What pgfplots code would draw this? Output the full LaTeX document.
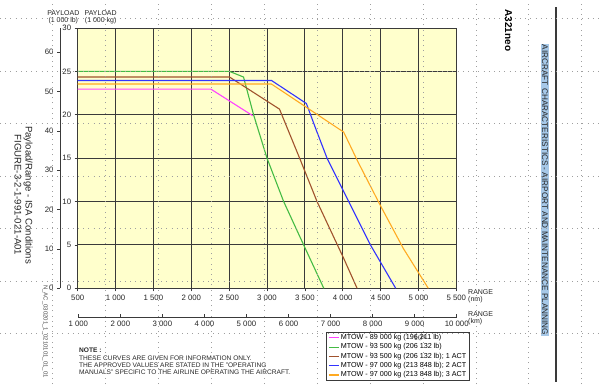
\documentclass[border=0pt]{standalone}
\usepackage{fontspec}
\setmainfont{Liberation Sans}
\usepackage{pgfplots}
\pgfplotsset{compat=1.18}
\definecolor{bgyellow}{HTML}{FFFFCC}
\definecolor{cmag}{HTML}{FF44FF}
\definecolor{cgreen}{HTML}{44BB44}
\definecolor{cbrown}{HTML}{A0522D}
\definecolor{cblue}{HTML}{3333FF}
\definecolor{corange}{HTML}{FFAA22}
\definecolor{hlblue}{HTML}{A6C8E8}
\definecolor{gridc}{HTML}{3A3A3A}
\begin{document}
\begin{tikzpicture}[x=1pt,y=1pt]
\useasboundingbox (0,0) rectangle (602,384);
\fill[white] (0,0) rectangle (602,384);

% ---------- main axis (nm / 1000 kg)
\begin{axis}[
  at={(77.7pt,95.7pt)}, anchor=south west,
  scale only axis, width=378.6pt, height=260.3pt,
  xmin=500, xmax=5500, ymin=0, ymax=30,
  xtick={500,1000,...,5500},
  xticklabels={500,1 000,1 500,2 000,2 500,3 000,3 500,4 000,4 500,5 000,5 500},
  ytick={0,5,...,30},
  grid=major,
  major grid style={draw=gridc, line width=1pt},
  axis line style={draw=gridc, line width=1pt},
  axis background/.style={fill=bgyellow},
  tick align=outside, xtick pos=bottom, ytick pos=left,
  major tick length=3pt,
  tick style={draw=gridc, line width=0.6pt},
  ticklabel style={font=\fontsize{7.8}{8}\selectfont, text=black!85},
  /pgf/number format/assume math mode=true,
  legend style={at={(0.6558,-0.1675)}, anchor=north west, draw=gridc, line width=0.8pt,
    font=\fontsize{7.2}{8}\selectfont, fill=white, inner xsep=2pt, inner ysep=0.8pt,
    nodes={inner sep=1.3pt}},
  legend cell align=left,
  legend image code/.code={\draw[#1, line width=1.1pt] (0pt,0pt) -- (10pt,0pt);},
]
\addplot[cmag, line width=1.1pt] coordinates {(500,22.95) (2260,22.95) (2810,19.9)};
\addlegendentry{MTOW - 89 000 kg (196 211 lb)}
\addplot[cgreen, line width=1.1pt] coordinates {(500,25.0) (2505,25.0) (2690,24.35) (2823,20) (3000,15) (3220,10) (3484,5) (3750,0)};
\addlegendentry{MTOW - 93 500 kg (206 132 lb)}
\addplot[cbrown, line width=1.1pt] coordinates {(500,24.35) (2505,24.35) (3165,20.65) (3440,14.8) (3661,10) (4013,3.45) (4190,0)};
\addlegendentry{MTOW - 93 500 kg (206 132 lb); 1 ACT}
\addplot[cblue, line width=1.1pt] coordinates {(500,23.95) (3060,23.95) (3520,21.3) (3652,18.2) (3793,15) (4079,10) (4366,5) (4700,0)};
\addlegendentry{MTOW - 97 000 kg (213 848 lb); 2 ACT}
\addplot[corange, line width=1.1pt] coordinates {(500,23.55) (3057,23.55) (4013,18.0) (4200,14.6) (4500,9.5) (4800,4.6) (5130,0)};
\addlegendentry{MTOW - 97 000 kg (213 848 lb); 3 ACT}
\end{axis}

% ---------- lb axis
\begin{axis}[
  at={(60pt,95.7pt)}, anchor=south west,
  scale only axis, width=5pt, height=260.3pt,
  xmin=0, xmax=1, ymin=0, ymax=66.139,
  axis x line=none, axis y line=left,
  axis line style={-, draw=gridc, line width=1pt},
  ytick={0,10,...,60},
  tick align=outside, major tick length=3pt,
  tick style={draw=gridc, line width=0.6pt},
  ticklabel style={font=\fontsize{7.8}{8}\selectfont, text=black!85},
  /pgf/number format/assume math mode=true,
]
\addplot[draw=none] coordinates {(0,0)};
\end{axis}

% ---------- km axis
\begin{axis}[
  at={(78.3pt,66.7pt)}, anchor=south west,
  scale only axis, width=378.4pt, height=5pt,
  xmin=1000, xmax=10000, ymin=0, ymax=1,
  axis y line=none, axis x line=bottom,
  axis line style={-, draw=gridc, line width=1pt},
  xtick={1000,2000,...,10000},
  xticklabels={1 000,2 000,3 000,4 000,5 000,6 000,7 000,8 000,9 000,10 000},
  tick align=inside, major tick length=3pt,
  tick style={draw=gridc, line width=0.6pt},
  ticklabel style={font=\fontsize{7.8}{8}\selectfont, text=black!85},
  xticklabel style={inner sep=1pt, yshift=-2.3pt},
]
\addplot[draw=none] coordinates {(1000,0)};
\end{axis}

% ---------- texts
\node[align=center, font=\fontsize{7}{7.3}\selectfont, text=black!85] at (63.3,366.5) {PAYLOAD\\(1 000 lb)};
\node[align=center, font=\fontsize{7}{7.3}\selectfont, text=black!85] at (100.7,366.5) {PAYLOAD\\(1 000 kg)};
\node[align=left, anchor=west, inner sep=0pt, font=\fontsize{7}{7}\selectfont, text=black!85] at (468,87.3) {RANGE\\(nm)};
\node[align=left, anchor=west, inner sep=0pt, font=\fontsize{7}{7}\selectfont, text=black!85] at (468,66) {RANGE\\(km)};

\node[rotate=-90, align=center, font=\fontsize{9.6}{11}\selectfont, text=black!85] at (23.5,189) {Payload/Range - ISA Conditions\\FIGURE-3-2-1-991-021-A01};
\node[rotate=-90, anchor=west, inner sep=0pt, font=\fontsize{6}{6}\selectfont, text=black!70] at (45,99) {N\_AC\_030201\_1\_0210101\_01\_01};

\node[anchor=north west, align=left, inner sep=0pt, font=\fontsize{6.6}{7}\selectfont, text=black!85] at (79,36) {\textbf{NOTE :}\\[1pt]THESE CURVES ARE GIVEN FOR INFORMATION ONLY.\\THE APPROVED VALUES ARE STATED IN THE "OPERATING\\MANUALS" SPECIFIC TO THE AIRLINE OPERATING THE AIRCRAFT.};

\node[rotate=-90, font=\bfseries\fontsize{10}{11}\selectfont] at (508.5,353.5) {A321neo};
\node[rotate=-90, fill=hlblue, inner sep=0.8pt, font=\fontsize{8.2}{9}\selectfont, text=black!85] at (545,194) {AIRCRAFT CHARACTERISTICS - AIRPORT AND MAINTENANCE PLANNING};
\draw[gridc, line width=2pt] (555.5,2.3) -- (555.5,376.7);

% ---------- page dotted grid
\foreach \i in {0,...,10} \draw[gray!75, line width=0.6pt, dash pattern=on 0.8pt off 4.4pt] ({52.3+52.94*\i},0) -- ++(0,384);
\foreach \j in {0,...,6} \draw[gray!75, line width=0.6pt, dash pattern=on 0.8pt off 4.4pt] (0,{384-(18.5+52.5*\j)}) -- ++(602,0);
\end{tikzpicture}
\end{document}
